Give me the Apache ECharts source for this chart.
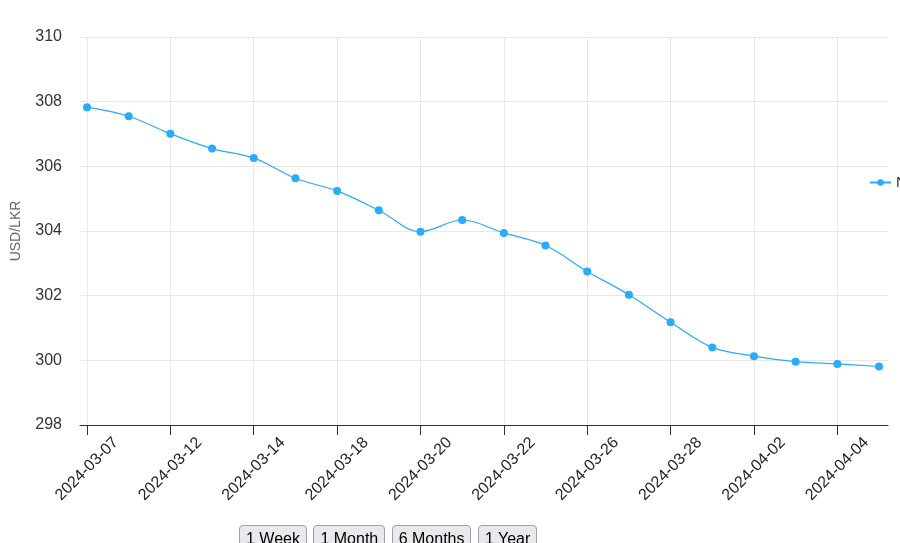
<!DOCTYPE html>
<html lang="en">
<head>
    <meta charset="UTF-8">
    <title>USD/LKR</title>
    <script src="https://cdn.jsdelivr.net/npm/echarts@6/dist/echarts.min.js"></script>
    <style>
        body {
            margin: 0;
            background: #fff;
            font-family: "Liberation Sans", Arial, sans-serif;
        }

        #chart {
            position: absolute;
            left: 0;
            top: 0;
            width: 900px;
            height: 543px;
        }

        .zc-range {
            position: absolute;
            left: 239px;
            top: 525px;
            white-space: nowrap;
        }

        .zc-range button {
            font-family: "Liberation Sans", Arial, sans-serif;
            font-size: 16px;
            padding: 4px 6px 1px 6px;
            margin-right: 2px;
            background: #e9e9ed;
            border: 1px solid #a0a0a8;
            border-radius: 4px;
            color: #000;
        }
    </style>
</head>
<body>
    <div id="chart"></div>
    <div class="zc-range">
        <button>1 Week</button>
        <button>1 Month</button>
        <button>6 Months</button>
        <button>1 Year</button>
    </div>

    <script>
        // dates (x categories)
        var dates = ['2024-03-07', '2024-03-11', '2024-03-12', '2024-03-13', '2024-03-14',
            '2024-03-15', '2024-03-18', '2024-03-19', '2024-03-20', '2024-03-21',
            '2024-03-22', '2024-03-25', '2024-03-26', '2024-03-27', '2024-03-28',
            '2024-04-01', '2024-04-02', '2024-04-03', '2024-04-04', '2024-04-05'];
        // rate values
        var rates = [307.83, 307.55, 307.01, 306.55, 306.26,
            305.63, 305.24, 304.64, 303.98, 304.34,
            303.94, 303.55, 302.75, 302.03, 301.18,
            300.40, 300.13, 299.96, 299.89, 299.81];
        // which dates get a label
        var labelIdx = [0, 2, 4, 6, 8, 10, 12, 14, 16, 18];
        var yTicks = [298, 300, 302, 304, 306, 308, 310];
        var seriesName = 'NDB Bank';

        var points = [];
        for (var i = 0; i < rates.length; i++) {
            points.push([i, rates[i]]);
        }

        var myChart = echarts.init(document.getElementById('chart'));
        var option = {
            animation: false,
            textStyle: {
                fontFamily: '"Liberation Sans", Arial, sans-serif'
            },
            grid: {
                left: 80,
                right: 12,
                top: 37,
                bottom: 118,
                outerBoundsMode: 'none'
            },
            legend: {
                orient: 'vertical',
                left: 864,
                top: 170,
                itemWidth: 21,
                itemHeight: 8,
                textStyle: {
                    fontSize: 15,
                    color: '#333'
                },
                data: [seriesName]
            },
            xAxis: {
                type: 'value',
                min: -0.168,
                max: 19.216,
                axisLine: {
                    lineStyle: {
                        color: '#333'
                    }
                },
                axisTick: {
                    length: 10,
                    customValues: labelIdx,
                    lineStyle: {
                        color: '#333'
                    }
                },
                axisLabel: {
                    customValues: labelIdx,
                    rotate: 45,
                    align: 'center',
                    verticalAlign: 'middle',
                    margin: 44,
                    fontSize: 16,
                    color: '#222',
                    formatter: function (v) {
                        return dates[Math.round(v)];
                    }
                },
                splitLine: {
                    show: true,
                    lineStyle: {
                        color: '#e8e8e8'
                    }
                }
            },
            yAxis: {
                type: 'value',
                min: yTicks[0],
                max: yTicks[yTicks.length - 1],
                interval: 2,
                name: 'USD/LKR',
                nameLocation: 'middle',
                nameGap: 57,
                nameTextStyle: {
                    fontSize: 14,
                    color: '#666'
                },
                axisLine: {
                    show: false
                },
                axisTick: {
                    show: false
                },
                axisLabel: {
                    margin: 18,
                    fontSize: 16,
                    color: '#333'
                },
                splitLine: {
                    lineStyle: {
                        color: '#e8e8e8'
                    }
                }
            },
            series: [{
                name: seriesName,
                type: 'line',
                data: points,
                smooth: 0.35,
                symbol: 'circle',
                symbolSize: 8,
                itemStyle: {
                    color: '#2aabfc'
                },
                lineStyle: {
                    width: 1.2,
                    color: '#2aabfc'
                }
            }]
        };
        myChart.setOption(option);
    </script>
</body>
</html>
